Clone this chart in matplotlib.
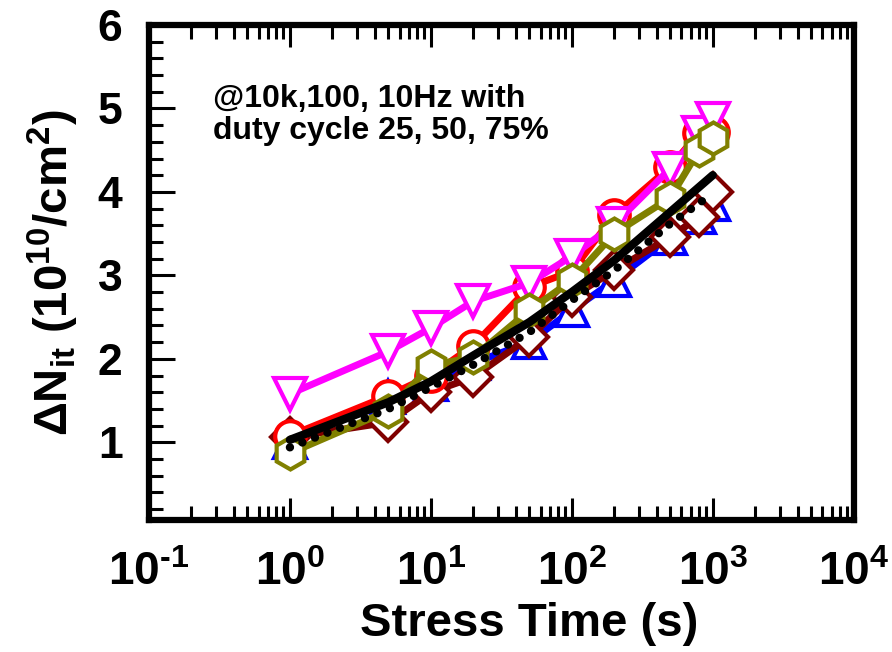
import numpy as np
import matplotlib
matplotlib.use('Agg')
import matplotlib.pyplot as plt
from matplotlib.ticker import LogLocator, MultipleLocator, FuncFormatter

plt.rcParams['font.family'] = ['Liberation Sans', 'DejaVu Sans']
plt.rcParams['font.weight'] = 'bold'
plt.rcParams['mathtext.fontset'] = 'custom'
plt.rcParams['mathtext.rm'] = 'Liberation Sans:bold'
plt.rcParams['mathtext.bf'] = 'Liberation Sans:bold'
plt.rcParams['mathtext.it'] = 'Liberation Sans:bold'
plt.rcParams['mathtext.default'] = 'bf'

# czas stresu (s)
t = [1, 5, 10, 20, 50, 100, 200, 500, 800, 1000]

# przyrost gęstości pułapek, 10^10 cm^-2
n_blue = [1.00, 1.54, 1.70, 1.95, 2.20, 2.58, 2.94, 3.45, 3.70, 3.86]
n_maroon = [1.06, 1.24, 1.60, 1.78, 2.26, 2.74, 3.06, 3.46, 3.70, 4.00]
n_red = [1.08, 1.56, 1.80, 2.16, 2.86, 3.05, 3.72, 4.30, 4.71, 4.72]
n_magenta = [1.58, 2.09, 2.37, 2.69, 2.91, 3.23, 3.61, 4.28, 4.70, 4.87]
n_olive = [0.87, 1.38, 1.92, 2.02, 2.58, 2.94, 3.50, 3.93, 4.50, 4.65]

# krzywe uśrednione
t_fit = [1, 5, 10, 20, 50, 100, 200, 500, 1000]
n_avg = [1.03, 1.48, 1.73, 2.04, 2.44, 2.80, 3.18, 3.76, 4.20]
n_fit = [0.94, 1.40, 1.66, 1.93, 2.32, 2.70, 3.06, 3.62, 3.98]

fig = plt.figure(figsize=(8.92, 6.52), dpi=100)
ax = fig.add_axes([0.167, 0.2025, 0.790, 0.7592])

serie = [
    (n_blue, '#0000FF', '^', 23),
    (n_maroon, '#800000', 'D', 19),
    (n_red, '#FF0000', 'o', 22),
    (n_magenta, '#FF00FF', 'v', 23),
    (n_olive, '#808000', 'h', 23),
]
for y, c, m, ms in serie:
    ax.plot(t, y, color=c, lw=5, marker=m, ms=ms, mfc='white', mec=c, mew=3)

ax.plot(t_fit, n_avg, color='black', lw=6, solid_capstyle='round')
ax.plot(t_fit, n_fit, color='black', lw=6, linestyle=(0, (0.01, 1.6)),
        dash_capstyle='round')

ax.set_xscale('log')
ax.set_xlim(0.1, 1e4)
ax.set_ylim(0.07, 6)

ax.xaxis.set_major_locator(LogLocator(base=10, numticks=10))
ax.xaxis.set_minor_locator(LogLocator(base=10, subs=np.arange(2, 10), numticks=10))
ax.xaxis.set_major_formatter(FuncFormatter(
    lambda v, p: r'$10^{\text{-}%d}$' % round(-np.log10(v)) if v < 1
    else r'$10^{%d}$' % round(np.log10(v))))
ax.yaxis.set_major_locator(MultipleLocator(1))
ax.yaxis.set_minor_locator(MultipleLocator(0.2))

for s in ax.spines.values():
    s.set_linewidth(4.5)

ax.tick_params(axis='both', which='both', direction='in', top=True, right=False, width=2.2)
ax.tick_params(axis='x', which='major', length=16, pad=22, labelsize=33)
ax.tick_params(axis='x', which='minor', length=10)
ax.tick_params(axis='y', which='major', length=19, pad=19, labelsize=32)
ax.tick_params(axis='y', which='minor', length=10)

ax.set_xlabel('Stress Time (s)', fontsize=34, fontweight='bold')
ax.xaxis.set_label_coords(0.54, -0.165)
ax.set_ylabel('ΔN$_{it}$ (10$^{10}$/cm$^{2}$)', fontsize=34, fontweight='bold', labelpad=12)

ax.text(0.091, 0.88, '@10k,100, 10Hz with\nduty cycle 25, 50, 75%',
        transform=ax.transAxes, fontsize=23, fontweight='bold', va='top',
        linespacing=1.05)

fig.savefig('out.png', dpi=100)
